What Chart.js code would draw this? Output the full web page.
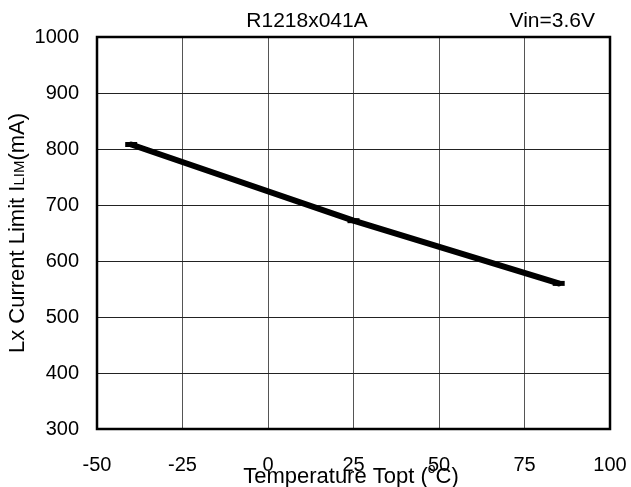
<!DOCTYPE html>
<html>
<head>
<meta charset="utf-8">
<script src="https://cdn.jsdelivr.net/npm/chart.js@4.4.1/dist/chart.umd.min.js"></script>
<style>
  body { margin: 0; background: #fff; }
  #wrap { width: 631px; height: 487px; }
</style>
</head>
<body>
<div id="wrap"><canvas id="limChart" width="631" height="487"></canvas></div>
<script>
// --- DATA ---
const temps = [-40, 25, 85];          // Topt (degC)
const currentLimit = [808, 672, 560]; // ILIM (mA)
const xTicks = [-50, -25, 0, 25, 50, 75, 100];
const yTicks = [300, 400, 500, 600, 700, 800, 900, 1000];
const chartTitle = 'R1218x041A';
const condition = 'Vin=3.6V';

const FONT = '"Liberation Sans", Arial, sans-serif';

// frame + texts that Chart.js can't lay out the way the datasheet does
const extras = {
    id: 'extras',
    afterDraw(chart) {
        const ctx = chart.ctx;
        const a = chart.chartArea;
        ctx.save();
        ctx.strokeStyle = '#000';
        ctx.lineWidth = 2.5;
        ctx.strokeRect(a.left, a.top, a.right - a.left, a.bottom - a.top);

        ctx.fillStyle = '#000';
        ctx.textBaseline = 'alphabetic';
        ctx.font = '21px ' + FONT;
        ctx.textAlign = 'center';
        ctx.fillText(chartTitle, 307, 27);
        ctx.textAlign = 'right';
        ctx.fillText(condition, 595, 27);

        // x axis title with superscript degree
        ctx.textAlign = 'left';
        const big = '22px ' + FONT, small = '14px ' + FONT;
        const p1 = 'Temperature Topt (', p3 = 'C)';
        ctx.font = big;
        const w1 = ctx.measureText(p1).width, w3 = ctx.measureText(p3).width;
        ctx.font = small;
        const w2 = ctx.measureText('o').width;
        let x = 351 - (w1 + w2 + w3) / 2;
        const base = 483;
        ctx.font = big; ctx.fillText(p1, x, base); x += w1;
        ctx.font = small; ctx.fillText('o', x, base - 10); x += w2;
        ctx.font = big; ctx.fillText(p3, x, base);

        // y axis title with small-caps subscript LIM
        ctx.translate(24, 233);
        ctx.rotate(-Math.PI / 2);
        const q1 = 'Lx Current Limit I', q2 = 'LIM', q3 = '(mA)';
        const smallY = '15px ' + FONT;
        ctx.font = big;
        const v1 = ctx.measureText(q1).width, v3 = ctx.measureText(q3).width;
        ctx.font = smallY;
        const v2 = ctx.measureText(q2).width;
        let y = -(v1 + v2 + v3) / 2;
        ctx.font = big; ctx.fillText(q1, y, 0); y += v1;
        ctx.font = smallY; ctx.fillText(q2, y, 0); y += v2;
        ctx.font = big; ctx.fillText(q3, y, 0);
        ctx.restore();
    }
};

const ctx = document.getElementById('limChart');
const limChart = new Chart(ctx, {
    type: 'line',
    data: {
        datasets: [{
            label: 'ILIM',
            data: temps.map((t, i) => ({ x: t, y: currentLimit[i] })),
            borderColor: '#000',
            backgroundColor: '#000',
            borderWidth: 6,
            borderCapStyle: 'round',
            pointStyle: 'line',
            pointRadius: 6,
            pointBorderWidth: 5,
            tension: 0
        }]
    },
    options: {
        responsive: false,
        animation: false,
        layout: { padding: { left: 0, right: 0, top: 37, bottom: 0 } },
        plugins: {
            legend: { display: false },
            tooltip: { enabled: false }
        },
        scales: {
            x: {
                type: 'linear',
                min: xTicks[0],
                max: xTicks[xTicks.length - 1],
                afterBuildTicks: s => { s.ticks = xTicks.map(v => ({ value: v })); },
                afterFit: s => { s.height = 58; s.paddingLeft = 0; s.paddingRight = 21; },
                ticks: { color: '#000', font: { family: FONT, size: 20 }, padding: 24, maxRotation: 0 },
                grid: { color: '#555', lineWidth: 1, drawTicks: false },
                border: { display: false }
            },
            y: {
                min: yTicks[0],
                max: yTicks[yTicks.length - 1],
                afterBuildTicks: s => { s.ticks = yTicks.map(v => ({ value: v })); },
                afterFit: s => { s.width = 97; },
                ticks: {
                    color: '#000', font: { family: FONT, size: 20 }, padding: 18,
                    callback: v => String(v)
                },
                grid: { color: '#222', lineWidth: 1, drawTicks: false },
                border: { display: false }
            }
        }
    },
    plugins: [extras]
});
</script>
</body>
</html>
